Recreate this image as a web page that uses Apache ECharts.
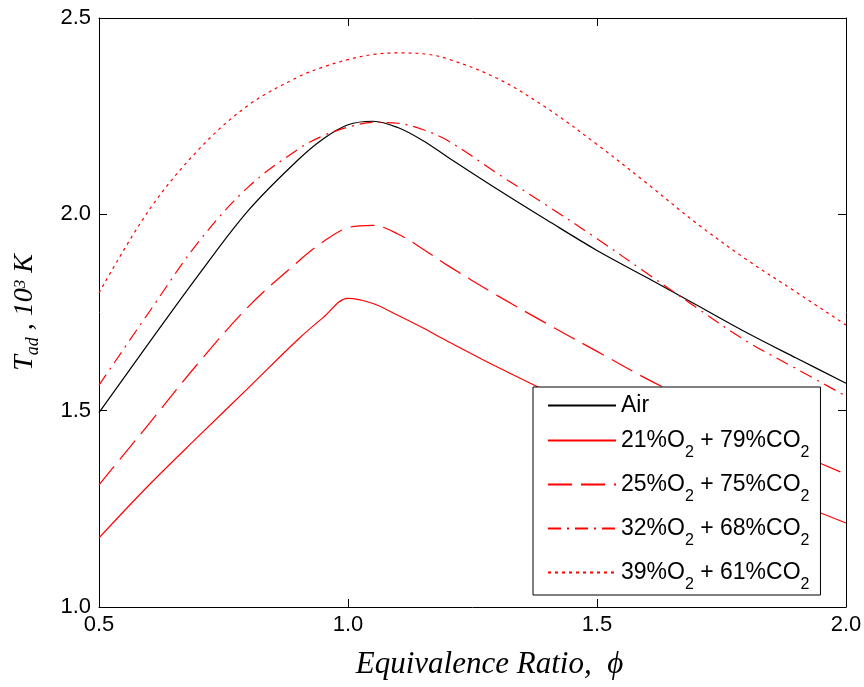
<!DOCTYPE html>
<html>
<head>
<meta charset="utf-8">
<script src="https://cdn.jsdelivr.net/npm/echarts@6.0.0/dist/echarts.min.js"></script>
<style>
  html, body { margin: 0; padding: 0; background: #fff; }
  #chart { width: 864px; height: 687px; }
</style>
</head>
<body>
<div id="chart"></div>
<script>
// equivalence ratio (x) and adiabatic flame temperature, 10^3 K
var phi = [0.5, 0.6, 0.7, 0.8, 0.9, 0.95, 1.0, 1.05, 1.1, 1.15, 1.2, 1.3, 1.4, 1.5, 1.6, 1.7, 1.8, 1.9, 2.0];

var tAir   = [1.495, 1.672, 1.846, 2.010, 2.139, 2.192, 2.228, 2.237, 2.221, 2.188, 2.146, 2.064, 1.985, 1.908, 1.839, 1.769, 1.699, 1.634, 1.570];
var tO2_21 = [1.176, 1.310, 1.435, 1.558, 1.682, 1.737, 1.786, 1.773, 1.743, 1.711, 1.677, 1.611, 1.549, 1.490, 1.432, 1.375, 1.319, 1.265, 1.214];
var tO2_25 = [1.311, 1.466, 1.622, 1.765, 1.880, 1.930, 1.966, 1.972, 1.950, 1.912, 1.870, 1.793, 1.721, 1.651, 1.581, 1.518, 1.455, 1.393, 1.338];
var tO2_32 = [1.565, 1.750, 1.930, 2.070, 2.166, 2.200, 2.222, 2.234, 2.232, 2.216, 2.188, 2.104, 2.022, 1.938, 1.850, 1.762, 1.677, 1.607, 1.537];
var tO2_39 = [1.800, 2.010, 2.165, 2.278, 2.350, 2.375, 2.394, 2.407, 2.411, 2.409, 2.396, 2.346, 2.270, 2.178, 2.079, 1.977, 1.885, 1.802, 1.718];

var seriesNames = ['Air', '21%O2 + 79%CO2', '25%O2 + 75%CO2', '32%O2 + 68%CO2', '39%O2 + 61%CO2'];
var xTicks = [0.5, 1.0, 1.5, 2.0];
var yTicks = [1.0, 1.5, 2.0, 2.5];

function pairs(ys) {
  return phi.map(function (x, i) { return [x, ys[i]]; });
}

function line(name, ys, color, type) {
  return {
    name: name,
    type: 'line',
    data: pairs(ys),
    showSymbol: false,
    symbol: 'none',
    smooth: 0.35,
    lineStyle: { color: color, width: 1.2, type: type },
    itemStyle: { color: color },
    emphasis: { disabled: true }
  };
}

var frame = { show: true, lineStyle: { color: '#000', width: 1 } };
var ticks = { show: true, inside: true, length: 8, lineStyle: { color: '#000' } };
var labelFont = { fontFamily: 'Liberation Sans', fontSize: 22, color: '#000' };

var chart = echarts.init(document.getElementById('chart'), null, { renderer: 'canvas' });

chart.setOption({
  animation: false,
  backgroundColor: '#fff',
  grid: { left: 99, right: 18, top: 18, bottom: 80, outerBoundsMode: 'none' },
  xAxis: [{
    type: 'value', position: 'bottom',
    min: xTicks[0], max: xTicks[xTicks.length - 1], interval: 0.5,
    axisLine: frame, axisTick: ticks, splitLine: { show: false },
    axisLabel: Object.assign({ margin: 7, formatter: function (v) { return v.toFixed(1); } }, labelFont),
    name: 'Equivalence Ratio,  ϕ',
    nameLocation: 'middle', nameGap: 42,
    nameTextStyle: { fontFamily: 'Liberation Serif', fontStyle: 'italic', fontSize: 31, color: '#000', padding: [0, 0, 0, 34] }
  }, {
    type: 'value', position: 'top',
    min: xTicks[0], max: xTicks[xTicks.length - 1], interval: 0.5,
    axisLine: frame, axisTick: ticks, axisLabel: { show: false }, splitLine: { show: false }
  }],
  yAxis: [{
    type: 'value', position: 'left',
    min: yTicks[0], max: yTicks[yTicks.length - 1], interval: 0.5,
    axisLine: frame, axisTick: ticks, splitLine: { show: false },
    axisLabel: Object.assign({ margin: 8, formatter: function (v) { return v.toFixed(1); } }, labelFont),
    name: '{t|T}{s|ad}{t| , 10}{p|3}{t| K}',
    nameLocation: 'middle', nameGap: 57, nameRotate: 90,
    nameTextStyle: {
      color: '#000',
      rich: {
        t: { fontFamily: 'Liberation Serif', fontStyle: 'italic', fontSize: 28, lineHeight: 34, color: '#000' },
        s: { fontFamily: 'Liberation Serif', fontStyle: 'italic', fontSize: 18, lineHeight: 34, verticalAlign: 'bottom', color: '#000' },
        p: { fontFamily: 'Liberation Serif', fontStyle: 'italic', fontSize: 17, lineHeight: 34, verticalAlign: 'top', color: '#000', padding: [4, 0, 0, 0] }
      }
    }
  }, {
    type: 'value', position: 'right',
    min: yTicks[0], max: yTicks[yTicks.length - 1], interval: 0.5,
    axisLine: frame, axisTick: ticks, axisLabel: { show: false }, splitLine: { show: false }
  }],
  legend: {
    orient: 'vertical',
    left: 533, top: 387,
    padding: [7, 11, 2, 14],
    itemGap: 12,
    itemWidth: 68, itemHeight: 14,
    borderColor: '#000', borderWidth: 1,
    backgroundColor: '#fff',
    selectedMode: false,
    itemStyle: { opacity: 0, color: 'rgba(0,0,0,0)', borderWidth: 0 },
    data: seriesNames,
    formatter: function (name) {
      var s = '{n|' + name.replace(/O2/g, 'O}{s|2}{n|') + '}';
      return s.replace('{n|}', '');
    },
    textStyle: {
      color: '#000',
      rich: {
        n: { fontFamily: 'Liberation Sans', fontSize: 23, lineHeight: 27, color: '#000' },
        s: { fontFamily: 'Liberation Sans', fontSize: 16, lineHeight: 27, verticalAlign: 'bottom', color: '#000', padding: [0, 0, -7, 0] }
      }
    }
  },
  series: [
    line(seriesNames[0], tAir, '#000000', 'solid'),
    line(seriesNames[1], tO2_21, '#ff0000', 'solid'),
    line(seriesNames[2], tO2_25, '#ff0000', [24, 9]),
    line(seriesNames[3], tO2_32, '#ff0000', [13, 6, 2, 6]),
    line(seriesNames[4], tO2_39, '#ff0000', [3, 4])
  ]
});
</script>
</body>
</html>
